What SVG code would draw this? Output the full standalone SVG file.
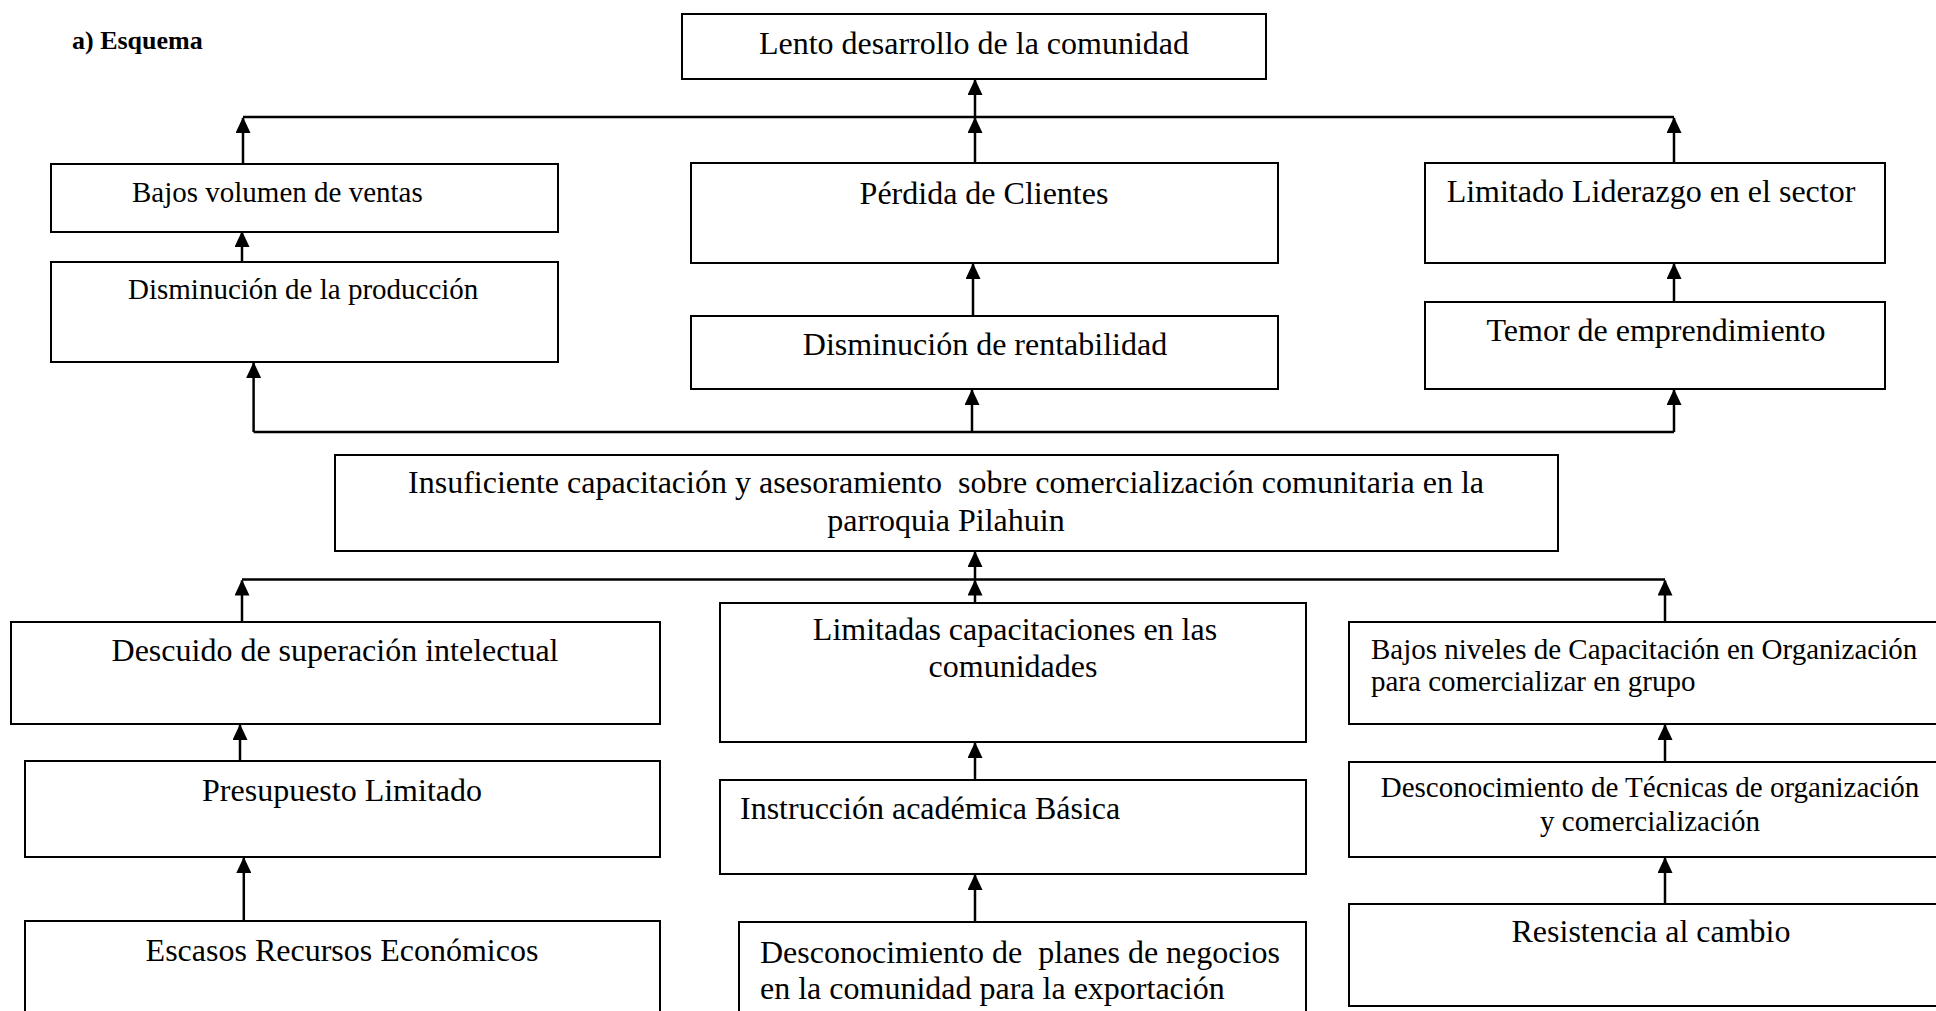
<svg xmlns="http://www.w3.org/2000/svg" width="1936" height="1011" viewBox="0 0 1936 1011">
<style>
.box{fill:#fff;stroke:#000;stroke-width:2}
.t{font-family:"Liberation Serif","Times New Roman",serif;font-size:32px;fill:#000}
.s{font-size:29px}
.m{text-anchor:middle}
.conn{fill:none;stroke:#000;stroke-width:2.5}
</style>
<defs>
<marker id="ah" markerUnits="userSpaceOnUse" markerWidth="16" markerHeight="15" viewBox="0 0 16 15" refX="15" refY="7.5" orient="auto">
<path d="M0,0 L16,7.5 L0,15 z" fill="#000"/>
</marker>
</defs>
<rect width="1936" height="1011" fill="#fff"/>
<text class="t" x="72" y="49" style="font-size:26px;font-weight:bold">a) Esquema</text>

<g id="connectors">
<path class="conn" d="M243,117 H1674"/>
<path class="conn" d="M253.6,432 H1674"/>
<path class="conn" d="M242,579.4 H1665"/>
<path class="conn" marker-end="url(#ah)" d="M975,117 V80"/>
<path class="conn" marker-end="url(#ah)" d="M243,164 V118"/>
<path class="conn" marker-end="url(#ah)" d="M975,164 V118"/>
<path class="conn" marker-end="url(#ah)" d="M1674,164 V118"/>
<path class="conn" marker-end="url(#ah)" d="M242,261 V232"/>
<path class="conn" marker-end="url(#ah)" d="M973,316 V264"/>
<path class="conn" marker-end="url(#ah)" d="M1674,301 V264"/>
<path class="conn" marker-end="url(#ah)" d="M253.6,432 V363"/>
<path class="conn" marker-end="url(#ah)" d="M972,432 V390"/>
<path class="conn" marker-end="url(#ah)" d="M1674,432 V390"/>
<path class="conn" marker-end="url(#ah)" d="M975,579.4 V552"/>
<path class="conn" marker-end="url(#ah)" d="M242,621 V580.5"/>
<path class="conn" marker-end="url(#ah)" d="M975,603 V580.5"/>
<path class="conn" marker-end="url(#ah)" d="M1665,622 V580.5"/>
<path class="conn" marker-end="url(#ah)" d="M240,761 V725"/>
<path class="conn" marker-end="url(#ah)" d="M243.8,921 V858"/>
<path class="conn" marker-end="url(#ah)" d="M975,780 V743"/>
<path class="conn" marker-end="url(#ah)" d="M975,922 V875"/>
<path class="conn" marker-end="url(#ah)" d="M1665,761 V725"/>
<path class="conn" marker-end="url(#ah)" d="M1665,903 V858"/>
</g>

<g id="n-lento"><rect class="box" x="682" y="14" width="584" height="65"/><text class="t m" x="974" y="54">Lento desarrollo de la comunidad</text></g>
<g id="n-bajos-ventas"><rect class="box" x="51" y="164" width="507" height="68"/><text class="t s" x="132" y="202">Bajos volumen de ventas</text></g>
<g id="n-dism-prod"><rect class="box" x="51" y="262" width="507" height="100"/><text class="t s" x="128" y="299">Disminución de la producción</text></g>
<g id="n-perdida"><rect class="box" x="691" y="163" width="587" height="100"/><text class="t m" x="984" y="204">Pérdida de Clientes</text></g>
<g id="n-rentab"><rect class="box" x="691" y="316" width="587" height="73"/><text class="t m" x="985" y="355">Disminución de rentabilidad</text></g>
<g id="n-liderazgo"><rect class="box" x="1425" y="163" width="460" height="100"/><text class="t m" x="1651" y="202">Limitado Liderazgo en el sector</text></g>
<g id="n-temor"><rect class="box" x="1425" y="302" width="460" height="87"/><text class="t m" x="1656" y="341">Temor de emprendimiento</text></g>
<g id="n-insuf"><rect class="box" x="335" y="455" width="1223" height="96"/><text class="t m" x="946" y="493" style="white-space:pre">Insuficiente capacitación y asesoramiento  sobre comercialización comunitaria en la</text><text class="t m" x="946" y="531">parroquia Pilahuin</text></g>
<g id="n-descuido"><rect class="box" x="11" y="622" width="649" height="102"/><text class="t m" x="335" y="661">Descuido de superación intelectual</text></g>
<g id="n-presupuesto"><rect class="box" x="25" y="761" width="635" height="96"/><text class="t m" x="342" y="801">Presupuesto Limitado</text></g>
<g id="n-escasos"><rect class="box" x="25" y="921" width="635" height="100"/><text class="t m" x="342" y="961">Escasos Recursos Económicos</text></g>
<g id="n-limitadas"><rect class="box" x="720" y="603" width="586" height="139"/><text class="t m" x="1015" y="640">Limitadas capacitaciones en las</text><text class="t m" x="1013" y="677">comunidades</text></g>
<g id="n-instruccion"><rect class="box" x="720" y="780" width="586" height="94"/><text class="t" x="740" y="819">Instrucción académica Básica</text></g>
<g id="n-planes"><rect class="box" x="739" y="922" width="567" height="100"/><text class="t" x="760" y="963" style="white-space:pre">Desconocimiento de  planes de negocios</text><text class="t" x="760" y="999">en la comunidad para la exportación</text></g>
<g id="n-bajos-niveles"><rect class="box" x="1349" y="622" width="600" height="102"/><text class="t s" x="1371" y="659">Bajos niveles de Capacitación en Organización</text><text class="t s" x="1371" y="691">para comercializar en grupo</text></g>
<g id="n-tecnicas"><rect class="box" x="1349" y="762" width="600" height="95"/><text class="t s m" x="1650" y="797">Desconocimiento de Técnicas de organización</text><text class="t s m" x="1650" y="831">y comercialización</text></g>
<g id="n-resistencia"><rect class="box" x="1349" y="904" width="600" height="102"/><text class="t m" x="1651" y="942">Resistencia al cambio</text></g>
</svg>
